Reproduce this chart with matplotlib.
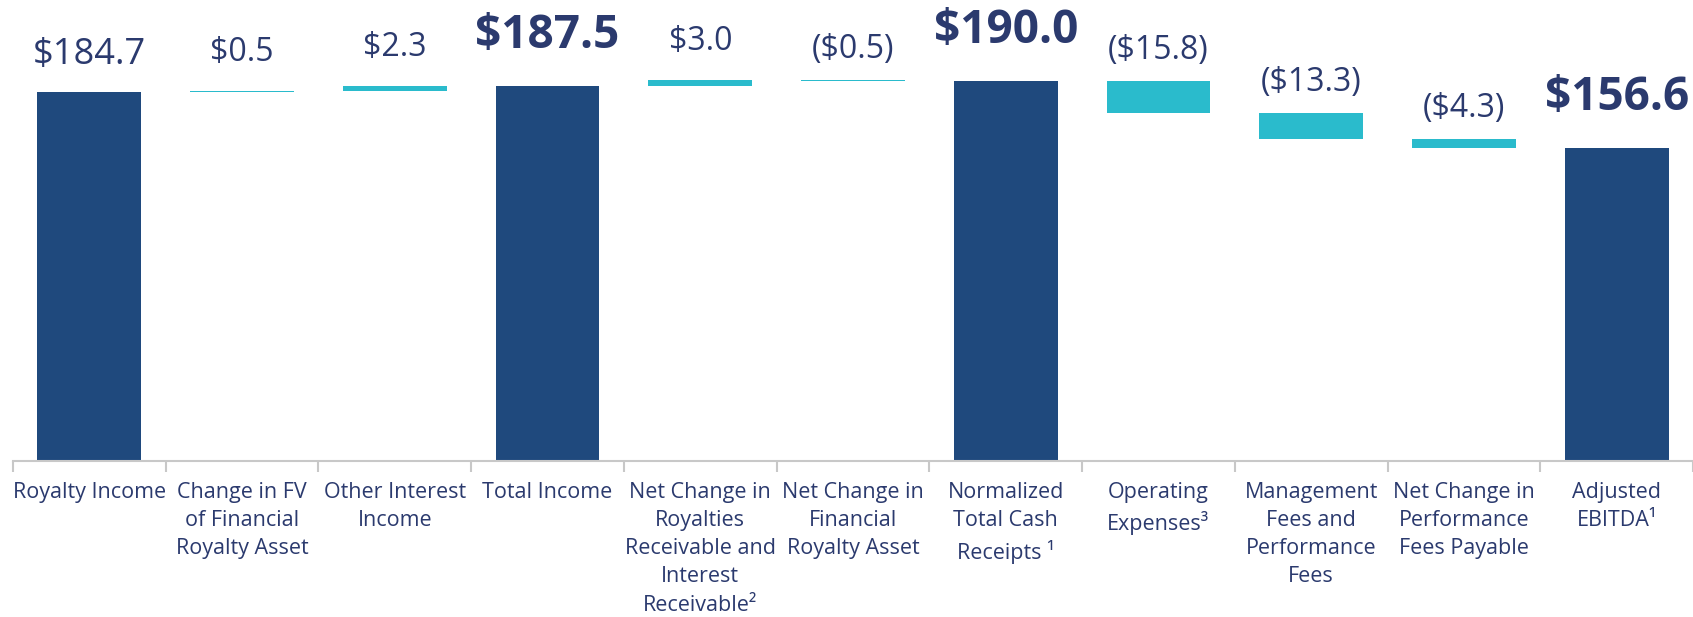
import matplotlib.pyplot as plt
import numpy as np

plt.rcParams['font.family'] = ['Open Sans', 'DejaVu Sans']

categories = ['Royalty Income', 'Change in FV\nof Financial\nRoyalty Asset', 'Other Interest\nIncome',
              'Total Income', 'Net Change in\nRoyalties\nReceivable and\nInterest\nReceivable\u00b2',
              'Net Change in\nFinancial\nRoyalty Asset', 'Normalized\nTotal Cash\nReceipts \u00b9',
              'Operating\nExpenses\u00b3', 'Management\nFees and\nPerformance\nFees',
              'Net Change in\nPerformance\nFees Payable', 'Adjusted\nEBITDA\u00b9']
values = [184.7, 0.5, 2.3, 187.5, 3.0, -0.5, 190.0, -15.8, -13.3, -4.3, 156.6]
# 'start' = first bar, drawn like a total but with a plain label
kind = ['start', 'step', 'step', 'total', 'step', 'step', 'total', 'step', 'step', 'step', 'total']
labels = ['$184.7', '$0.5', '$2.3', '$187.5', '$3.0', '($0.5)', '$190.0',
          '($15.8)', '($13.3)', '($4.3)', '$156.6']

navy = '#1f497d'
cyan = '#2abbcc'
txt = '#2b3a6e'

W, H = 1693, 617
fig = plt.figure(figsize=(W / 100, H / 100), dpi=100)
base_px = 461
ax = fig.add_axes([13 / W, (H - base_px) / H, (W - 13) / W, base_px / H])
ax.set_ylim(0, base_px / 2.0)
n = len(values)
ax.set_xlim(-0.5, n - 0.5)

x = np.arange(n)
running = 0.0
for i, v in enumerate(values):
    if kind[i] != 'step':
        bottom, height, color = 0, v, navy
        running = v
        top = v
    else:
        bottom = running if v >= 0 else running + v
        height = abs(v)
        color = cyan
        top = running + v if v >= 0 else running
        running += v
    ax.bar(x[i], height, bottom=bottom, width=0.68, color=color, linewidth=0)
    if kind[i] == 'total':
        ax.text(x[i], top + 19, labels[i], ha='center', va='baseline', fontsize=33,
                fontweight='bold', color=txt)
    elif kind[i] == 'start':
        ax.text(x[i], top + 14, labels[i], ha='center', va='baseline', fontsize=26,
                color=txt)
    else:
        off = 15 if v >= 0 else 11
        ax.text(x[i], top + off, labels[i], ha='center', va='baseline', fontsize=23,
                color=txt)

for s in ['top', 'right', 'left']:
    ax.spines[s].set_visible(False)
ax.spines['bottom'].set_color('#c8c8c8')
ax.spines['bottom'].set_linewidth(1.5)
ax.set_yticks([])
ax.set_xticks(np.arange(n + 1) - 0.5, minor=True)
ax.tick_params(axis='x', which='minor', length=8, width=1.5, color='#c8c8c8')
ax.set_xticks(x)
ax.set_xticklabels(categories, fontsize=15.5, color=txt, linespacing=1.45, va='top')
ax.tick_params(axis='x', which='major', length=0, pad=15)

fig.savefig('out.png', dpi=100)
